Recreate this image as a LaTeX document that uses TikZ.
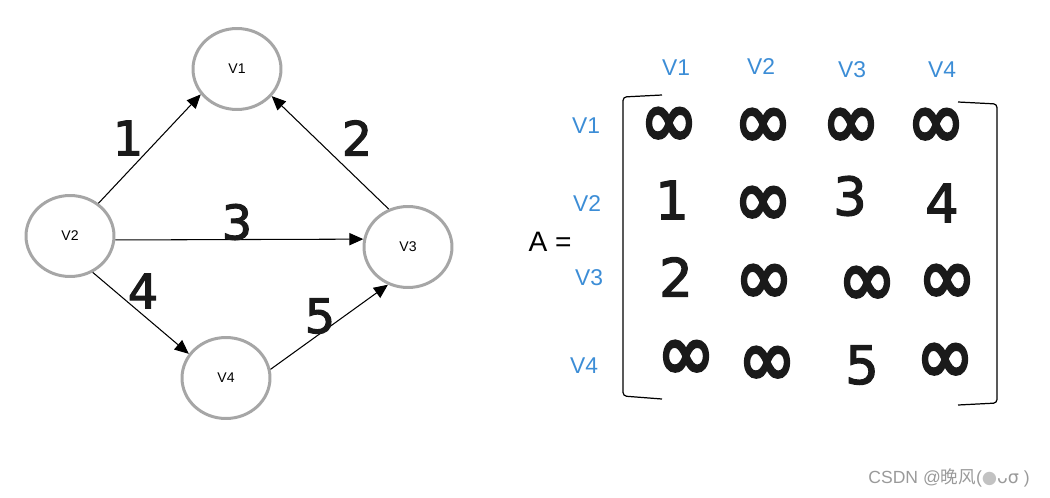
\documentclass[tikz,border=0pt]{standalone}
\usepackage{fontspec}
\usepackage{graphicx}
\setmainfont{Liberation Sans}
\newfontfamily\cjkfont{Noto Sans CJK SC}
\newfontfamily\symfont{DejaVu Sans}
\newfontfamily\handfont[FakeBold=2.5]{DejaVu Sans}
\newfontfamily\loopfont[FakeBold=4]{DejaVu Sans}
\usetikzlibrary{shapes.geometric, arrows.meta}
\definecolor{VertexGray}{HTML}{A6A6A6}
\definecolor{HeadBlue}{HTML}{3C8DD6}
\definecolor{MarkGray}{HTML}{9A9A9A}
\definecolor{InkBlack}{HTML}{1A1A1A}
\newcommand{\infsign}{\scalebox{1}[1.15]{∞}}

\begin{document}
\begin{tikzpicture}[x=0.02cm, y=-0.02cm,
    vertex/.style={draw=VertexGray, line width=1.7pt, ellipse, inner sep=0pt,
      minimum width=1.76cm, minimum height=1.62cm, font=\fontsize{8}{9}\selectfont},
    edge/.style={-{Triangle[length=8pt,width=7pt]}, line width=0.6pt},
    weight/.style={text=InkBlack, font=\handfont\fontsize{27}{30}\selectfont},
    head/.style={text=HeadBlue, font=\fontsize{13}{15}\selectfont},
    entry/.style={text=InkBlack, font=\handfont\fontsize{30}{32}\selectfont},
    loop/.style={text=InkBlack, inner sep=0pt, text height=30pt, text depth=0pt,
      font=\loopfont\fontsize{40}{42}\selectfont}]
    \useasboundingbox (0,0) rectangle (1050,497);

    % graph
    \node[vertex] (v1) at (237,69) {V1};
    \node[vertex] (v2) at (70,236) {V2};
    \node[vertex] (v3) at (408,247) {V3};
    \node[vertex] (v4) at (226,378) {V4};

    \draw[edge] (v2.49) -- (v1.-145);
    \draw[edge] (v3.117) -- (v1.-38);
    \draw[edge] (v2.-5) -- (v3.170);
    \draw[edge] (v2.-58) -- (v4.147);
    \draw[edge] (v4.11) -- (v3.-118);

    \node[weight] (w1) at (128,138) {1};
    \node[weight] (w2) at (357,138) {2};
    \node[weight] (w3) at (237,222) {3};
    \node[weight] (w4) at (143,291) {4};
    \node[weight] (w5) at (320,316) {5};

    % matrix
    \node[font=\fontsize{16}{18}\selectfont] (lhs) at (550,242) {A =};

    \node[head] (c1) at (676,68) {V1};
    \node[head] (c2) at (761,67) {V2};
    \node[head] (c3) at (852,70) {V3};
    \node[head] (c4) at (942,70) {V4};
    \node[head] (r1) at (586,126) {V1};
    \node[head] (r2) at (587,204) {V2};
    \node[head] (r3) at (589,278) {V3};
    \node[head] (r4) at (584,366) {V4};

    \draw[line width=0.7pt, rounded corners=2] (662,95) -- (623,97) -- (623,396) -- (662,399);
    \draw[line width=0.7pt, rounded corners=2] (958,102) -- (997,104) -- (997,403) -- (958,405);

    \node[loop] (a11) at (669,121) {\infsign};
    \node[loop] (a12) at (763,122) {\infsign};
    \node[loop] (a13) at (851,122) {\infsign};
    \node[loop] (a14) at (936,122) {\infsign};
    \node[entry] (a21) at (672,200) {1};
    \node[loop] (a22) at (763,200) {\infsign};
    \node[entry] (a23) at (850,196) {3};
    \node[entry] (a24) at (942,203) {4};
    \node[entry] (a31) at (676,277) {2};
    \node[loop] (a32) at (764,278) {\infsign};
    \node[loop] (a33) at (867,280) {\infsign};
    \node[loop] (a34) at (947,278) {\infsign};
    \node[loop] (a41) at (686,354) {\infsign};
    \node[loop] (a42) at (767,360) {\infsign};
    \node[entry] (a43) at (862,365) {5};
    \node[loop] (a44) at (945,357) {\infsign};

    % watermark
    \node[text=MarkGray, anchor=east, font=\fontsize{10}{12}\selectfont] (mark) at (1036,478)
      {CSDN @{\cjkfont 晚风}({\symfont\color{MarkGray!60}●}{\symfont ᴗσ} )};
\end{tikzpicture}
\end{document}
